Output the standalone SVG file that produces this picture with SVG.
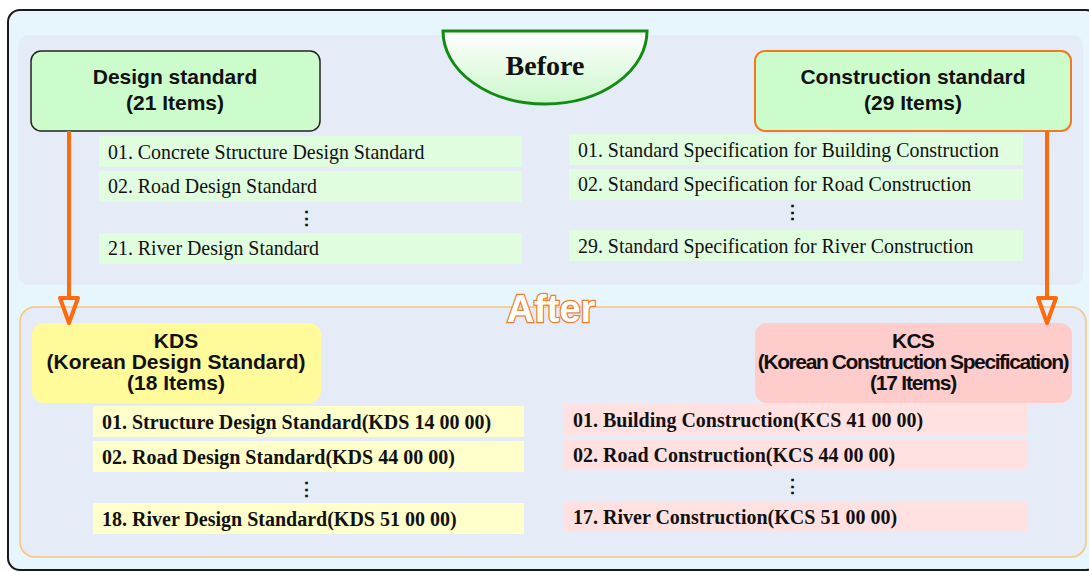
<svg xmlns="http://www.w3.org/2000/svg" width="1089" height="572" viewBox="0 0 1089 572">
<defs>
<linearGradient id="gBefore" x1="0" y1="0" x2="0" y2="1">
<stop offset="0" stop-color="#ffffff"/>
<stop offset="1" stop-color="#ccf7cc"/>
</linearGradient>
<style>
.hdr{font-family:"Liberation Sans",Arial,sans-serif;font-weight:bold;font-size:21px;fill:#111;text-anchor:middle}
.item{font-family:"Liberation Serif","Times New Roman",serif;font-size:19.9px;fill:#111}
.itemb{font-family:"Liberation Serif","Times New Roman",serif;font-size:20px;font-weight:bold;fill:#111}
.dots{font-family:"Liberation Serif",serif;font-size:19px;font-weight:bold;fill:#111;text-anchor:middle}
.gi{fill:#e0fde0}
.yi{fill:#ffffcc}
.pi{fill:#ffe1e1}
.arrow{stroke:#ff6a0e;stroke-width:4;fill:none;stroke-linejoin:round}
</style>
</defs>
<rect x="8" y="10" width="1090" height="560" rx="12" fill="#e7f5fd" stroke="#1a1a1a" stroke-width="2"/>
<g id="before-panel">
<rect x="18" y="35" width="1065" height="250" rx="10" fill="#e5ecf7"/>
</g>
<g id="after-panel">
<rect x="20" y="307" width="1066" height="250" rx="15" fill="#e5ecf7" stroke="#f5c57e" stroke-width="1.5"/>
</g>
<g id="before-label">
<path d="M443 31 L647 31 A102 73 0 0 1 443 31 Z" fill="url(#gBefore)" stroke="#138a13" stroke-width="3"/>
<text x="545" y="75" font-family="Liberation Serif,serif" font-weight="bold" font-size="28" text-anchor="middle" fill="#111">Before</text>
</g>
<g id="design-standard">
<rect x="31" y="51" width="289" height="80" rx="10" fill="#ccfccc" stroke="#222" stroke-width="1.5"/>
<text class="hdr" x="175" y="84">Design standard</text>
<text class="hdr" x="175" y="110">(21 Items)</text>
</g>
<g id="construction-standard">
<rect x="755" y="51" width="316" height="80" rx="10" fill="#ccfccc" stroke="#f07a22" stroke-width="2"/>
<text class="hdr" x="913" y="84">Construction standard</text>
<text class="hdr" x="913" y="110">(29 Items)</text>
</g>
<g id="design-items">
<rect class="gi" x="99" y="136" width="423" height="31"/>
<text class="item" x="108" y="159">01. Concrete Structure Design Standard</text>
<rect class="gi" x="99" y="171" width="423" height="31"/>
<text class="item" x="108" y="193">02. Road Design Standard</text>
<text class="dots" x="306" y="225">⋮</text>
<rect class="gi" x="99" y="233" width="423" height="31"/>
<text class="item" x="108" y="255">21. River Design Standard</text>
</g>
<g id="construction-items">
<rect class="gi" x="569" y="134" width="454" height="31"/>
<text class="item" x="578" y="157">01. Standard Specification for Building Construction</text>
<rect class="gi" x="569" y="169" width="454" height="31"/>
<text class="item" x="578" y="191">02. Standard Specification for Road Construction</text>
<text class="dots" x="792" y="219">⋮</text>
<rect class="gi" x="569" y="230" width="454" height="31"/>
<text class="item" x="578" y="253">29. Standard Specification for River Construction</text>
</g>
<g id="after-label">
<text x="551" y="322" font-family="Liberation Sans,Arial,sans-serif" font-weight="bold" font-size="38" text-anchor="middle" fill="#ffffff" stroke="#ee7d2e" stroke-width="2.5" paint-order="stroke">After</text>
</g>
<g id="kds">
<rect x="32" y="323" width="289" height="80" rx="12" fill="#fffb9b"/>
<text class="hdr" x="176" y="348">KDS</text>
<text class="hdr" x="176" y="369">(Korean Design Standard)</text>
<text class="hdr" x="176" y="390">(18 Items)</text>
</g>
<g id="kcs">
<rect x="755" y="323" width="317" height="80" rx="12" fill="#ffcccc"/>
<text class="hdr" x="913" y="348" letter-spacing="-0.8">KCS</text>
<text class="hdr" x="913" y="369" letter-spacing="-1.4">(Korean Construction Specification)</text>
<text class="hdr" x="913" y="390" letter-spacing="-1.2">(17 Items)</text>
</g>
<g id="kds-items">
<rect class="yi" x="93" y="406" width="431" height="31"/>
<text class="itemb" x="102" y="429">01. Structure Design Standard(KDS 14 00 00)</text>
<rect class="yi" x="93" y="441" width="431" height="31"/>
<text class="itemb" x="102" y="464">02. Road Design Standard(KDS 44 00 00)</text>
<text class="dots" x="306" y="496">⋮</text>
<rect class="yi" x="93" y="503" width="431" height="31"/>
<text class="itemb" x="102" y="526">18. River Design Standard(KDS 51 00 00)</text>
</g>
<g id="kcs-items">
<rect class="pi" x="564" y="404" width="463" height="31"/>
<text class="itemb" x="573" y="427">01. Building Construction(KCS 41 00 00)</text>
<rect class="pi" x="564" y="439" width="463" height="31"/>
<text class="itemb" x="573" y="462">02. Road Construction(KCS 44 00 00)</text>
<text class="dots" x="792" y="493">⋮</text>
<rect class="pi" x="564" y="501" width="463" height="31"/>
<text class="itemb" x="573" y="524">17. River Construction(KCS 51 00 00)</text>
</g>
<g id="connectors">
<line class="arrow" x1="69" y1="131" x2="69" y2="298"/>
<path class="arrow" d="M60 298 L78 298 L69 323 Z"/>
<line class="arrow" x1="1047" y1="131" x2="1047" y2="298"/>
<path class="arrow" d="M1038 298 L1056 298 L1047 323 Z"/>
</g>
</svg>
